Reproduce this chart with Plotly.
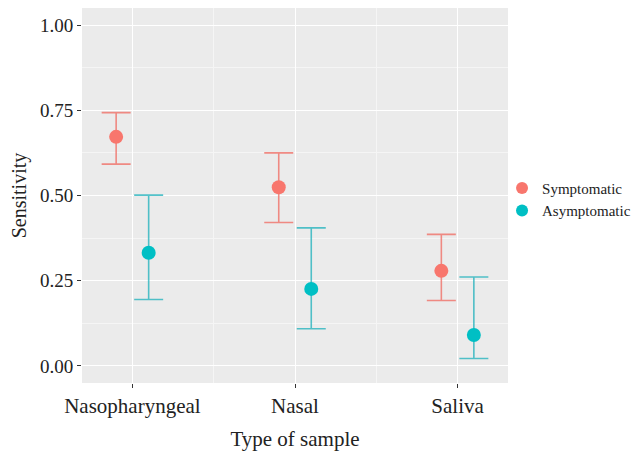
import plotly.graph_objects as go

categories = ["Nasopharyngeal", "Nasal", "Saliva"]
groups = ["Symptomatic", "Asymptomatic"]
sym_est = [0.672, 0.524, 0.279]
sym_low = [0.592, 0.421, 0.192]
sym_high = [0.743, 0.625, 0.386]
asym_est = [0.332, 0.226, 0.091]
asym_low = [0.195, 0.109, 0.022]
asym_high = [0.501, 0.405, 0.261]
y_ticks = [0.0, 0.25, 0.5, 0.75, 1.0]
y_ticklabels = ["0.00", "0.25", "0.50", "0.75", "1.00"]

colors = ["#F8766D", "#00BFC4"]
err_colors = ["rgba(240,120,112,0.85)", "rgba(40,180,190,0.8)"]
dodge = [-0.1, 0.1]
FONT = "Liberation Serif, serif"

fig = go.Figure()
series = [(sym_est, sym_low, sym_high), (asym_est, asym_low, asym_high)]
for g, (est, low, high) in enumerate(series):
    xs = [i + 1 + dodge[g] for i in range(len(categories))]
    fig.add_trace(go.Scatter(
        x=xs, y=est, mode="markers", name=groups[g],
        marker=dict(color=colors[g], size=14),
        error_y=dict(type="data", symmetric=False,
                     array=[h - e for h, e in zip(high, est)],
                     arrayminus=[e - l for e, l in zip(est, low)],
                     color=err_colors[g], thickness=1.6, width=14.5),
    ))

fig.update_layout(
    width=631, height=447,
    margin=dict(l=74, r=131, t=0, b=72, autoexpand=False),
    paper_bgcolor="white", plot_bgcolor="#EBEBEB",
    font=dict(family=FONT, size=20, color="#333333"),
    showlegend=True,
    legend=dict(x=0.986, y=0.49, xanchor="left", yanchor="middle",
                font=dict(family=FONT, size=15, color="#222222"),
                bgcolor="rgba(0,0,0,0)", itemsizing="constant",
                tracegroupgap=0),
)
fig.update_xaxes(
    range=[0.69, 3.31], tickvals=[1, 2, 3], ticktext=categories,
    showgrid=True, gridcolor="white", gridwidth=1.2,
    minor=dict(dtick=0.5, tick0=0.5, showgrid=True, gridcolor="#F5F5F5", gridwidth=0.6),
    ticks="outside", ticklen=4, tickcolor="#333333",
    tickfont=dict(family=FONT, size=21, color="#222222"),
    zeroline=False, showline=False, automargin=False,
    title=dict(text="Type of sample", font=dict(family=FONT, size=21, color="#222222"), standoff=14),
)
fig.update_yaxes(
    range=[-0.05, 1.05], tickvals=y_ticks, ticktext=y_ticklabels,
    showgrid=True, gridcolor="white", gridwidth=1.2,
    minor=dict(dtick=0.125, tick0=0.125, showgrid=True, gridcolor="#F5F5F5", gridwidth=0.6),
    ticks="outside", ticklen=4, tickcolor="#333333",
    tickfont=dict(family=FONT, size=19, color="#222222"),
    zeroline=False, showline=False, automargin=False,
    title=dict(text="Sensitivity", font=dict(family=FONT, size=20, color="#222222"), standoff=8),
)

fig.write_html("out.html")
